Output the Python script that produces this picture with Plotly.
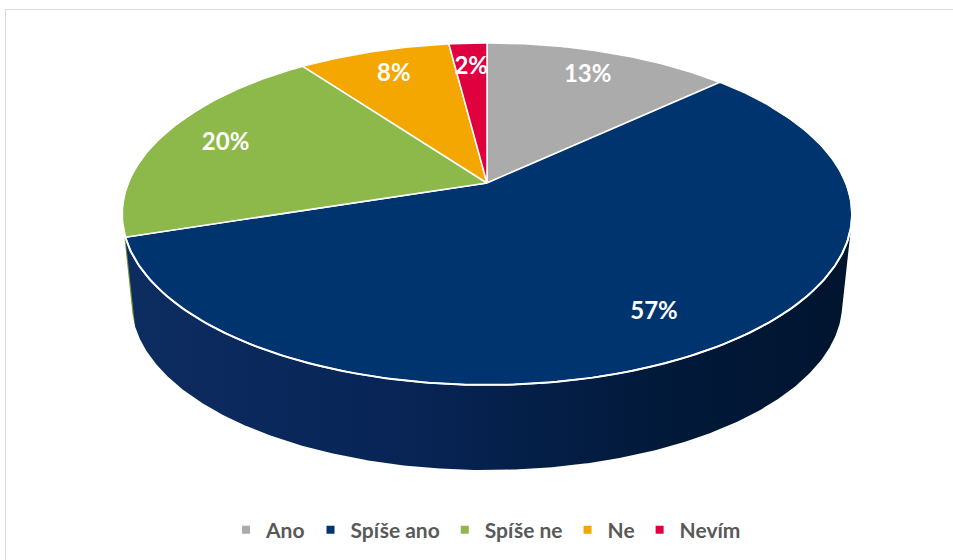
import numpy as np
import plotly.graph_objects as go

# ---- data ----
categories = ["Ano", "Spíše ano", "Spíše ne", "Ne", "Nevím"]
values = [13, 57, 20, 8, 2]
top_colors = ["#ABABAB", "#00346F", "#8CB94A", "#F4A700", "#E0003F"]
side_colors = ["#7f7f7f", "#0a2858", "#6f9a36", "#c48600", "#a8002f"]

# ---- 3D pie geometry (pixel space) ----
cx, cy = 487.0, 183.0      # projected centre of the top face
R, RK, P = 359.0, 165.4, 0.181   # horizontal radius, vertical radius, perspective
S, CB = 0.973, 273.5       # bottom face scale and centre y
LABEL_F = 0.8


def top_pt(t_deg, f=1.0):
    t = np.radians(t_deg)
    X, Y = f * np.sin(t), f * np.cos(t)
    w = 1 + P * Y
    return cx + R * X / w, cy - RK * Y / w


def bot_pt(xt, yt):
    return cx + S * (np.asarray(xt) - cx), CB + S * (np.asarray(yt) - cy)


def hull(points):
    pts = sorted(set(points))
    if len(pts) < 3:
        return pts

    def cross(o, a, b):
        return (a[0] - o[0]) * (b[1] - o[1]) - (a[1] - o[1]) * (b[0] - o[0])

    lower, upper = [], []
    for p in pts:
        while len(lower) >= 2 and cross(lower[-2], lower[-1], p) <= 0:
            lower.pop()
        lower.append(p)
    for p in reversed(pts):
        while len(upper) >= 2 and cross(upper[-2], upper[-1], p) <= 0:
            upper.pop()
        upper.append(p)
    return lower[:-1] + upper[:-1]


total = sum(values)
ends = np.cumsum(values) / total * 360.0
starts = np.concatenate([[0.0], ends[:-1]])

fig = go.Figure()

# side walls (drawn back to front)
sides = []
for i, (a, b) in enumerate(zip(starts, ends)):
    n = max(int((b - a) * 2), 8)
    ts = np.linspace(a, b, n)
    xt, yt = top_pt(ts)
    xb, yb = bot_pt(xt, yt)
    pts = [(float(x), float(y)) for x, y in zip(xt, yt)] + \
          [(float(x), float(y)) for x, y in zip(xb, yb)]
    h = hull(pts)
    sides.append((float(np.max(yb)), i, h))
sides.sort()
for _, i, h in sides:
    hx = [p[0] for p in h] + [h[0][0]]
    hy = [p[1] for p in h] + [h[0][1]]
    kw = dict(fillcolor=side_colors[i])
    if categories[i] == "Spíše ano":
        kw = dict(fillgradient=dict(type="horizontal",
                                    colorscale=[[0, "#0d2c60"], [0.4, "#072455"],
                                                [0.7, "#021a3c"], [1, "#00142e"]]))
    fig.add_trace(go.Scatter(x=hx, y=hy, mode="lines", fill="toself",
                             line=dict(width=0), hoverinfo="skip",
                             showlegend=False, **kw))

# white line on front rim of top face
rt = np.linspace(60, 300, 300)
rx, ry = top_pt(rt)

# top faces
for i, (a, b) in enumerate(zip(starts, ends)):
    n = max(int((b - a) * 2), 8)
    ts = np.linspace(a, b, n)
    xt, yt = top_pt(ts)
    px = np.concatenate([[cx], xt, [cx]])
    py = np.concatenate([[cy], yt, [cy]])
    fig.add_trace(go.Scatter(x=px, y=py, mode="lines", fill="toself",
                             fillcolor=top_colors[i],
                             line=dict(color="white", width=1.5),
                             hoverinfo="text", text=categories[i],
                             showlegend=False))

fig.add_trace(go.Scatter(x=rx, y=ry, mode="lines",
                         line=dict(color="white", width=2),
                         hoverinfo="skip", showlegend=False))

# data labels
mids = (starts + ends) / 2
lx, ly = top_pt(mids, LABEL_F)
fig.add_trace(go.Scatter(x=lx, y=ly, mode="text",
                         text=[f"{v}%" for v in values],
                         textfont=dict(family="Lato, Open Sans, sans-serif",
                                       size=24, color="white"),
                         texttemplate="<b>%{text}</b>",
                         hoverinfo="skip", showlegend=False))

# legend entries
for i, c in enumerate(categories):
    fig.add_trace(go.Scatter(x=[None], y=[None], mode="markers", name=c,
                             marker=dict(symbol="square", size=8,
                                         color=top_colors[i])))

fig.update_layout(
    width=953, height=560, autosize=False,
    paper_bgcolor="white",
    plot_bgcolor="white",
    margin=dict(l=0, r=0, t=0, b=0),
    xaxis=dict(range=[0, 953], visible=False, fixedrange=True),
    yaxis=dict(range=[560, 0], visible=False, fixedrange=True),
    showlegend=True,
    legend=dict(orientation="h", x=0.51, xanchor="center",
                y=1 - 530 / 560, yanchor="middle",
                font=dict(family="Lato, Open Sans, sans-serif", size=21,
                          color="#595959", weight="bold"),
                itemwidth=30, tracegroupgap=0, bgcolor="rgba(0,0,0,0)"),
    shapes=[dict(type="rect", xref="paper", yref="paper",
                 x0=5.5 / 953, x1=1.01, y0=-0.01, y1=1 - 9.5 / 560,
                 line=dict(color="#D9D9D9", width=1), layer="below")],
)

fig.write_html(
    "out.html",
    config={"displayModeBar": False},
    post_script="document.body.style.margin='0';"
                "document.body.style.overflow='hidden';",
)
